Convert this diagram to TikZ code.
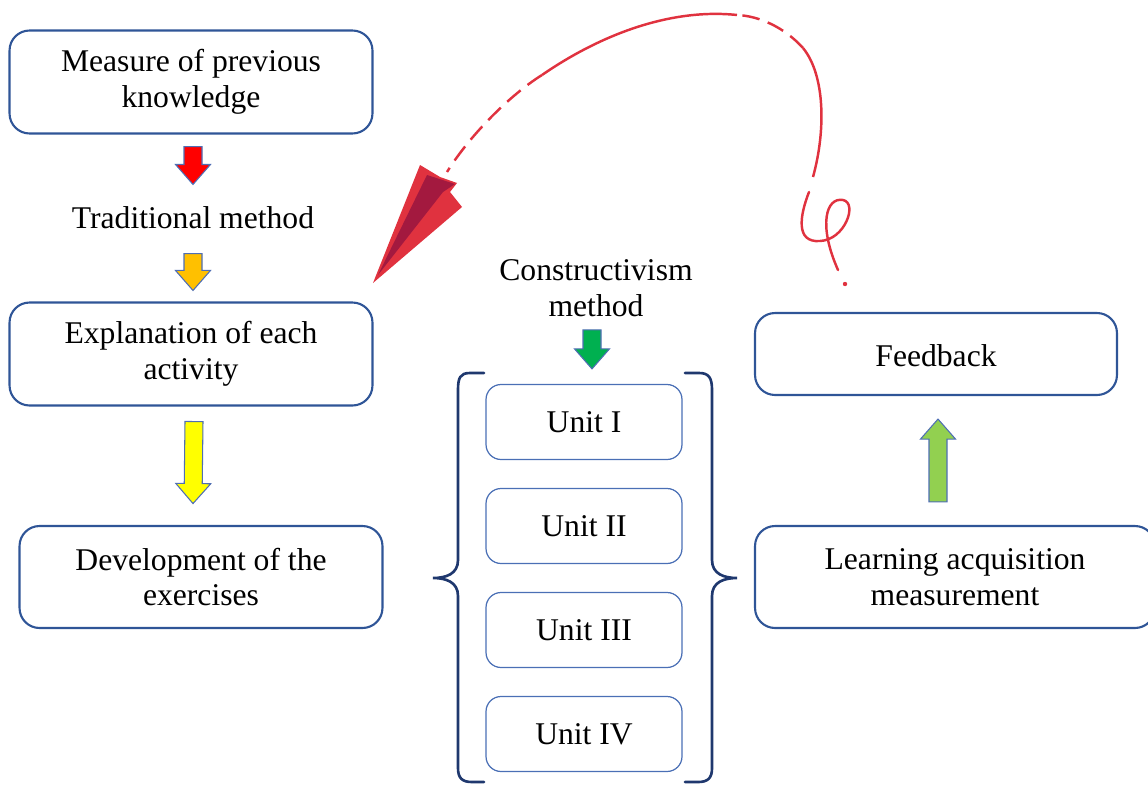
\documentclass[tikz,border=0pt]{standalone}
\usepackage{fontspec}
\setmainfont{Liberation Serif}
\usetikzlibrary{calc}

\definecolor{boxblue}{RGB}{47,85,151}
\definecolor{unitblue}{RGB}{74,111,181}
\definecolor{bracenavy}{RGB}{31,56,110}
\definecolor{arrowedge}{RGB}{79,110,180}
\definecolor{loopred}{RGB}{224,50,63}
\definecolor{darkred}{RGB}{163,25,63}
\definecolor{arrred}{RGB}{255,0,0}
\definecolor{arrorange}{RGB}{255,192,0}
\definecolor{arryellow}{RGB}{255,255,0}
\definecolor{arrgreen}{RGB}{0,176,80}
\definecolor{arrlight}{RGB}{146,208,80}

% block arrow: fill colour, start, end
\newcommand{\blockarrow}[3]{%
  \coordinate (ba-s) at #2;
  \coordinate (ba-e) at #3;
  \coordinate (ba-c) at ($(ba-e)!0.4cm!(ba-s)$);
  \filldraw[draw=arrowedge, fill=#1, line width=0.6pt, line join=miter]
    ($(ba-s)!0.18cm!-90:(ba-e)$) -- ($(ba-c)!0.18cm!90:(ba-s)$)
    -- ($(ba-c)!0.35cm!90:(ba-s)$) -- (ba-e)
    -- ($(ba-c)!0.35cm!-90:(ba-s)$) -- ($(ba-c)!0.18cm!-90:(ba-s)$)
    -- ($(ba-s)!0.18cm!90:(ba-e)$) -- cycle;
}

\tikzset{
  bigbox/.style={draw=boxblue, line width=1.2pt, rounded corners=0.4cm,
    minimum width=7.26cm, minimum height=2.06cm, align=center, inner sep=0pt,
    execute at begin node={\vspace*{4.5pt}}},
  unitbox/.style={draw=unitblue, line width=0.7pt, rounded corners=0.3cm,
    minimum width=3.92cm, minimum height=1.5cm, inner sep=0pt},
  plaintext/.style={inner sep=0pt, align=center},
  bracket/.style={draw=bracenavy, line width=1.5pt, line cap=round},
  redline/.style={draw=loopred, line width=1.4pt}
}

\begin{document}
\begin{tikzpicture}[x=0.02cm, y=-0.02cm, font=\fontsize{18}{20.4}\selectfont]
    \useasboundingbox (0,0) rectangle (1148,784);

    % left column
    \node[bigbox] (measure) at (191,82) {Measure of previous\\knowledge};
    \node[plaintext, text height=12pt, text depth=3pt] (trad) at (193,221) {Traditional method};
    \node[bigbox] (explain) at (191,354) {Explanation of each\\activity};
    \node[bigbox, minimum height=2.04cm] (develop) at (201,577) {Development of the\\exercises};
    \blockarrow{arrred}{($(measure.south)+(2,12)$)}{($(trad.north)+(0,-23)$)}
    \blockarrow{arrorange}{($(trad.south)+(0,19)$)}{($(trad.south |- explain.north)+(0,-11)$)}
    \blockarrow{arryellow}{($(explain.south)+(3,15)$)}{($(explain.south -| trad.south)+(0,97)$)}

    % middle column
    \node[plaintext] (constr) at (596,288) {Constructivism\\method};
    \node[unitbox] (unit1) at (584,422) {Unit I};
    \node[unitbox] (unit2) at (584,526) {Unit II};
    \node[unitbox] (unit3) at (584,630) {Unit III};
    \node[unitbox] (unit4) at (584,734) {Unit IV};
    \blockarrow{arrgreen}{($(constr.south)+(-4,13)$)}{($(constr.south |- unit1.north)+(-4,-15)$)}
    \draw[bracket] (484,373) -- (470,373) .. controls (460,373) and (458,378) .. (458,390)
      -- (458,560) .. controls (458,574) and (446,578) .. (433,578)
      .. controls (446,578) and (458,582) .. (458,596)
      -- (458,768) .. controls (458,778) and (462,782) .. (472,782) -- (484,782);
    \draw[bracket] (685,373) -- (699,373) .. controls (709,373) and (712,378) .. (712,390)
      -- (712,560) .. controls (712,574) and (724,578) .. (737,578)
      .. controls (724,578) and (712,582) .. (712,596)
      -- (712,768) .. controls (712,778) and (708,782) .. (698,782) -- (685,782);

    % right column
    \node[bigbox, minimum width=7.24cm, minimum height=1.64cm,
      execute at begin node={\rule{0pt}{14pt}}] (feed) at (936,354) {Feedback};
    \node[bigbox, minimum width=8cm, minimum height=2.04cm] (learn) at (955,577) {Learning acquisition\\measurement};
    \blockarrow{arrlight}{($(feed.south |- learn.north)+(2,-23)$)}{($(feed.south)+(2,23)$)}

    % return curve
    \draw[redline] (813,177) .. controls (826,130) and (825,75) .. (803,48);
    \draw[redline, dash pattern=on 10pt off 5pt] (803,48) .. controls (785,28) and (760,16) .. (737,15);
    \draw[redline] (737,15) .. controls (670,8) and (600,35) .. (542,75);
    \draw[redline, dash pattern=on 10pt off 5pt] (542,75) .. controls (510,95) and (470,135) .. (447,172);
    \draw[redline, line cap=round] (809,192) .. controls (800,215) and (795,243) .. (820,241)
      .. controls (845,240) and (858,203) .. (843,200)
      .. controls (826,197) and (818,225) .. (838,270);
    \fill[loopred] (845,284) circle (2.2);
    \fill[loopred] (373,283) -- (420,165) -- (440,177) -- (457,183) -- (450,192) -- (462,207) -- cycle;
    \fill[darkred] (378,275) -- (427,175) -- (455,184) -- (443,192) -- cycle;
\end{tikzpicture}
\end{document}
